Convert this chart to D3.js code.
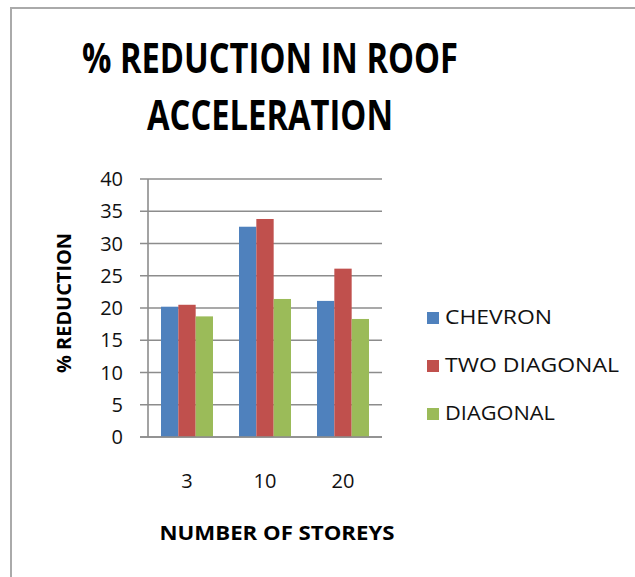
<!DOCTYPE html>
<html>
<head>
<meta charset="utf-8">
<script src="https://cdn.jsdelivr.net/npm/d3@7.9.0/dist/d3.min.js"></script>
<style>
  html, body { margin: 0; padding: 0; background: #fff; }
  svg { display: block; font-family: "Open Sans", sans-serif; }
</style>
</head>
<body>
<svg id="chart" width="635" height="577"></svg>
<script>
// data
const storeys = ['3', '10', '20'];
const seriesNames = ['CHEVRON', 'TWO DIAGONAL', 'DIAGONAL'];
const chevron = [20.2, 32.6, 21.1];
const twoDiagonal = [20.5, 33.8, 26.1];
const diagonal = [18.7, 21.4, 18.3];
const yTicks = [0, 5, 10, 15, 20, 25, 30, 35, 40];
const colors = ['#4F81BD', '#C0504D', '#9BBB59'];

const seriesValues = [chevron, twoDiagonal, diagonal];

const svg = d3.select('#chart');

// outer chart frame
svg.append('rect')
  .attr('x', 11).attr('y', 8)
  .attr('width', 640).attr('height', 590)
  .attr('fill', 'none')
  .attr('stroke', '#aaaaaa')
  .attr('stroke-width', 2);

// title
svg.append('text')
  .attr('x', 270).attr('y', 73)
  .attr('text-anchor', 'middle')
  .attr('font-size', 42).attr('font-weight', 'bold')
  .attr('textLength', 376).attr('lengthAdjust', 'spacingAndGlyphs')
  .text('% REDUCTION IN ROOF');
svg.append('text')
  .attr('x', 270).attr('y', 130)
  .attr('text-anchor', 'middle')
  .attr('font-size', 42).attr('font-weight', 'bold')
  .attr('textLength', 246).attr('lengthAdjust', 'spacingAndGlyphs')
  .text('ACCELERATION');

const plotLeft = 148, plotRight = 382, plotTop = 179, plotBottom = 437;

// gap width 150% like the original: group = 2/3 of each category slot
let x0 = d3.scaleBand().domain(storeys).range([plotLeft, plotRight]).paddingInner(1 / 3).paddingOuter(1 / 6);
let x1 = d3.scaleBand().domain(seriesNames).range([0, x0.bandwidth()]);
let y = d3.scaleLinear().domain([0, 40]).range([plotBottom, plotTop]);

// gridlines
svg.append('g')
  .selectAll('line')
  .data(yTicks)
  .join('line')
  .attr('x1', plotLeft - 8).attr('x2', plotRight)
  .attr('y1', d => y(d)).attr('y2', d => y(d))
  .attr('stroke', '#8c8c8c')
  .attr('stroke-width', 1.3);

// y axis line
svg.append('line')
  .attr('x1', plotLeft).attr('x2', plotLeft)
  .attr('y1', plotTop).attr('y2', plotBottom)
  .attr('stroke', '#8c8c8c')
  .attr('stroke-width', 1.6);

// bars
storeys.forEach((s, i) => {
  seriesNames.forEach((name, j) => {
    svg.append('rect')
      .attr('x', x0(s) + x1(name))
      .attr('y', y(seriesValues[j][i]))
      .attr('width', x1.bandwidth())
      .attr('height', y(0) - y(seriesValues[j][i]))
      .attr('fill', colors[j]);
  });
});

// x axis line on top of bars
svg.append('line')
  .attr('x1', plotLeft - 8).attr('x2', plotRight)
  .attr('y1', plotBottom).attr('y2', plotBottom)
  .attr('stroke', '#8c8c8c')
  .attr('stroke-width', 1.6);

// y tick labels
svg.append('g')
  .selectAll('text')
  .data(yTicks)
  .join('text')
  .attr('x', 123)
  .attr('y', d => y(d) + 7)
  .attr('text-anchor', 'end')
  .attr('font-size', 20)
  .attr('fill', '#111')
  .text(d => d);

// x tick labels
svg.append('g')
  .selectAll('text')
  .data(storeys)
  .join('text')
  .attr('x', d => x0(d) + x0.bandwidth() / 2)
  .attr('y', 488)
  .attr('text-anchor', 'middle')
  .attr('font-size', 20)
  .attr('fill', '#111')
  .text(d => d);

// axis titles
svg.append('text')
  .attr('x', 277).attr('y', 540)
  .attr('text-anchor', 'middle')
  .attr('font-size', 20).attr('font-weight', 'bold')
  .attr('textLength', 235).attr('lengthAdjust', 'spacingAndGlyphs')
  .text('NUMBER OF STOREYS');
svg.append('text')
  .attr('transform', 'translate(71,303) rotate(-90)')
  .attr('text-anchor', 'middle')
  .attr('font-size', 20).attr('font-weight', 'bold')
  .attr('textLength', 140).attr('lengthAdjust', 'spacingAndGlyphs')
  .text('% REDUCTION');

// legend
const legendWidths = [107, 174, 110];
let legend = svg.append('g');
seriesNames.forEach((name, j) => {
  let ly = 324 + j * 48;
  legend.append('rect')
    .attr('x', 427).attr('y', ly - 12)
    .attr('width', 12).attr('height', 12)
    .attr('fill', colors[j]);
  legend.append('text')
    .attr('x', 445).attr('y', ly)
    .attr('font-size', 20)
    .attr('fill', '#111')
    .attr('textLength', legendWidths[j]).attr('lengthAdjust', 'spacingAndGlyphs')
    .text(name);
});
</script>
</body>
</html>
